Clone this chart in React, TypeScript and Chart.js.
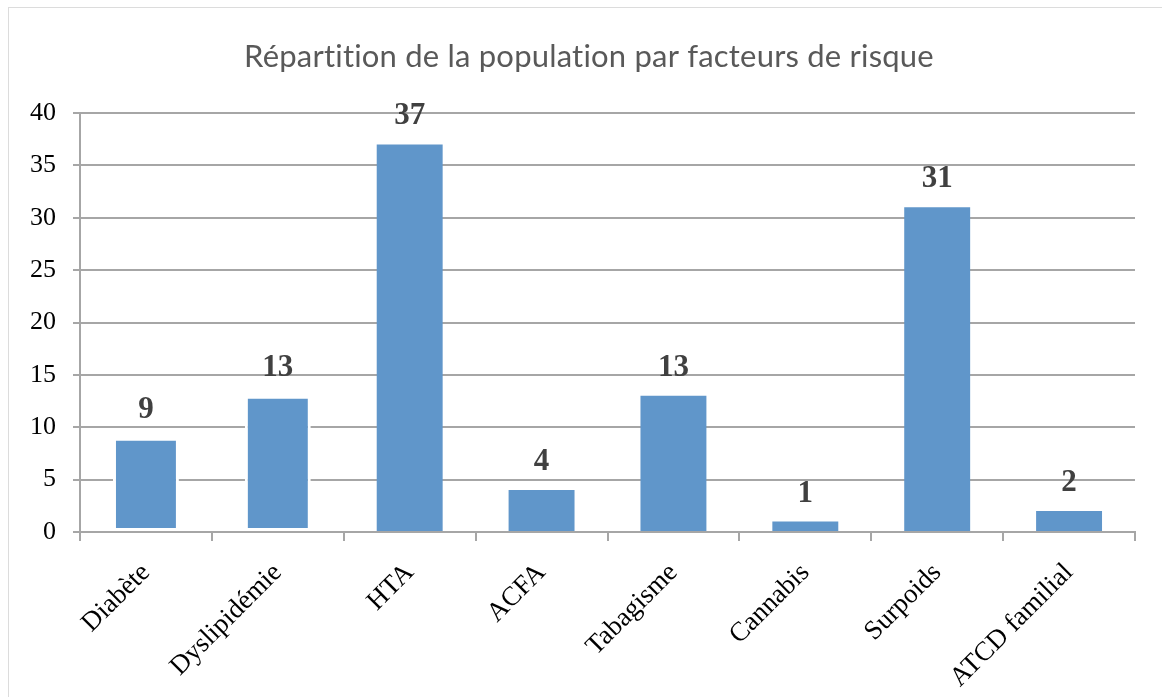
import React, { useEffect, useRef } from "react";
import { Chart, registerables } from "chart.js";

Chart.register(...registerables);

const TITLE = "Répartition de la population par facteurs de risque";
const categories = ["Diabète", "Dyslipidémie", "HTA", "ACFA", "Tabagisme", "Cannabis", "Surpoids", "ATCD familial"];
const values = [9, 13, 37, 4, 13, 1, 31, 2];
const valueLabels = ["9", "13", "37", "4", "13", "1", "31", "2"];
const yMin = 0;
const yMax = 40;
const yStep = 5;

const W = 1162;
const H = 697;

export default function App() {
  const ref = useRef<HTMLCanvasElement | null>(null);

  useEffect(() => {
    const canvas = ref.current;
    if (!canvas) return;

    const titlePlugin = {
      id: "customTitle",
      afterDraw(chart: any) {
        const ctx = chart.ctx;
        ctx.save();
        ctx.font = "31px Lato";
        try {
          (ctx as any).letterSpacing = "0.2px";
        } catch (e) {}
        ctx.fillStyle = "#595959";
        ctx.textAlign = "center";
        ctx.textBaseline = "alphabetic";
        ctx.fillText(TITLE, 589, 67);
        ctx.restore();
      },
    };

    const labelPlugin = {
      id: "valueLabels",
      afterDatasetsDraw(chart: any) {
        const ctx = chart.ctx;
        const meta = chart.getDatasetMeta(0);
        ctx.save();
        ctx.font = "bold 31px 'Liberation Serif'";
        ctx.fillStyle = "#404040";
        ctx.textAlign = "center";
        ctx.textBaseline = "alphabetic";
        meta.data.forEach((bar: any, i: number) => {
          ctx.fillText(valueLabels[i], bar.x, bar.y - 20);
        });
        ctx.restore();
      },
    };

    const chart = new Chart(canvas, {
      type: "bar",
      data: {
        labels: categories,
        datasets: [
          {
            data: values,
            backgroundColor: "#6096CA",
            borderColor: "#ffffff",
            borderWidth: values.map((_, i) => (i < 2 ? 3 : 0)),
            borderSkipped: false,
            barPercentage: 0.5,
            categoryPercentage: 1,
          },
        ],
      },
      options: {
        responsive: false,
        animation: false,
        layout: { padding: { left: 0, right: 27, top: 113, bottom: 0 } },
        plugins: {
          legend: { display: false },
          title: { display: false },
          tooltip: { enabled: false },
        },
        scales: {
          x: {
            offset: true,
            grid: {
              offset: true,
              drawOnChartArea: false,
              drawTicks: true,
              tickLength: 9,
              color: "#a6a6a6",
              lineWidth: 2,
            },
            border: { display: true, color: "#a6a6a6", width: 2 },
            ticks: {
              maxRotation: 45,
              minRotation: 45,
              autoSkip: false,
              color: "#000000",
              font: { family: "'Liberation Serif'", size: 27 },
              padding: 16,
            },
            afterFit(scale: any) {
              scale.height = H - 532;
            },
          },
          y: {
            min: yMin,
            max: yMax,
            ticks: {
              stepSize: yStep,
              color: "#000000",
              font: { family: "'Liberation Serif'", size: 26 },
              padding: 17,
            },
            grid: {
              color: "#a6a6a6",
              lineWidth: 2,
              tickLength: 7,
            },
            border: { display: true, color: "#a6a6a6", width: 2 },
            afterFit(scale: any) {
              scale.width = 80;
            },
          },
        },
      },
      plugins: [titlePlugin, labelPlugin],
    });

    return () => chart.destroy();
  }, []);

  return (
    <div style={{ position: "fixed", left: 0, top: 0, width: W, height: H, background: "#ffffff", overflow: "hidden" }}>
      <div
        style={{
          position: "absolute",
          left: 8,
          top: 7,
          width: W,
          height: H,
          border: "1px solid #dcdcdc",
          boxSizing: "border-box",
        }}
      />
      <canvas ref={ref} width={W} height={H} style={{ position: "absolute", left: 0, top: 0, width: W, height: H }} />
    </div>
  );
}
